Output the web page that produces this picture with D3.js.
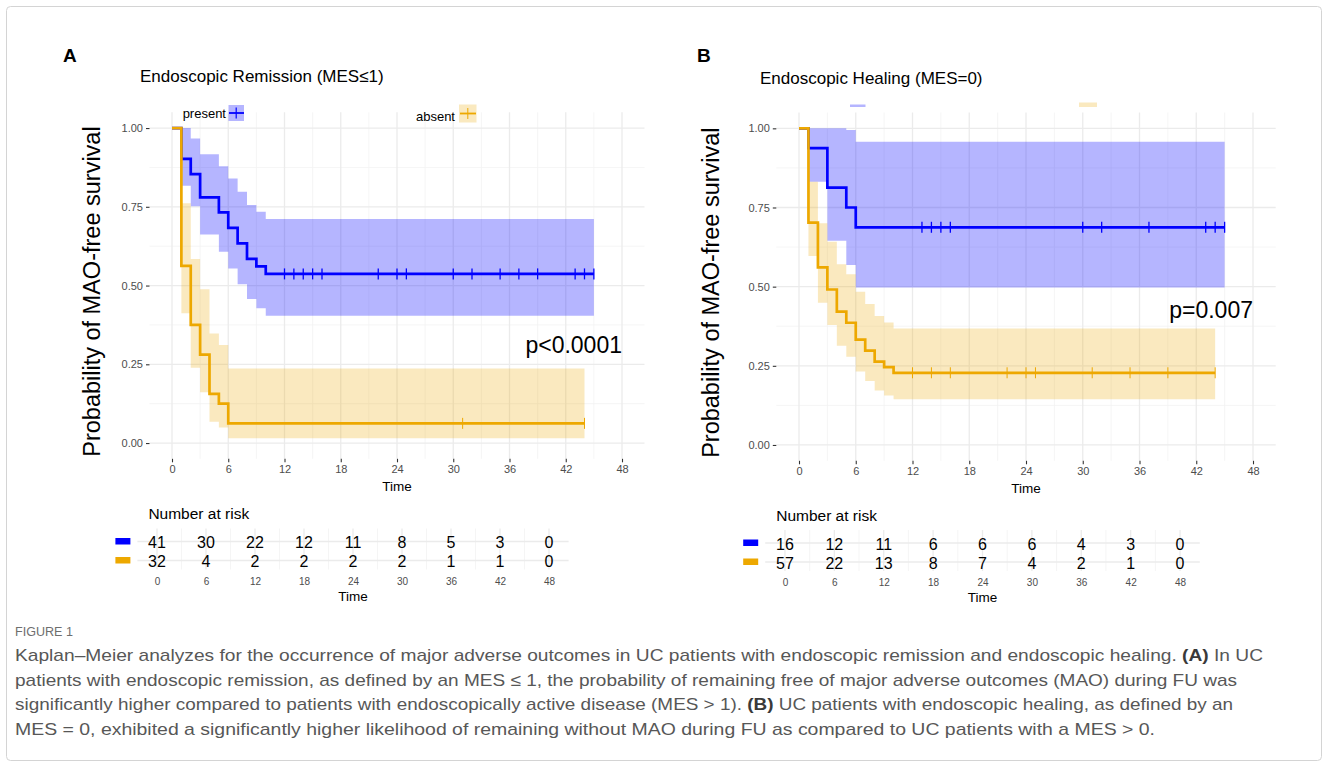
<!DOCTYPE html>
<html>
<head>
<meta charset="utf-8">
<script src="https://cdn.jsdelivr.net/npm/d3@7"></script>
<style>
body { margin: 0; background: #fff; }
svg text { font-family: "Liberation Sans", Arial, sans-serif; }
</style>
</head>
<body>
<svg id="chart"></svg>
<script>
// SVG size params
var width = 1328;
var height = 767;

// Time ticks (months)
var months = [0, 6, 12, 18, 24, 30, 36, 42, 48];

// Panel A: endoscopic remission, MES<=1 (present) vs absent
var remPresentTimes = [0, 1, 2, 3, 5, 6, 7, 8, 9, 10];
var remPresentSurv = [1, 0.902, 0.854, 0.780, 0.732, 0.683, 0.634, 0.585, 0.561, 0.537];
var remPresentUpper = [1, 1.0, 0.967, 0.917, 0.879, 0.840, 0.798, 0.756, 0.734, 0.711];
var remPresentLower = [1, 0.817, 0.752, 0.662, 0.607, 0.554, 0.504, 0.457, 0.428, 0.404];
var remPresentCensor = [12, 13, 14, 15, 16, 22, 24, 25, 30, 32, 35, 37, 39, 43, 44, 45];

var remAbsentTimes = [0, 1, 2, 3, 4, 5, 6];
var remAbsentSurv = [1, 0.5625, 0.375, 0.281, 0.156, 0.125, 0.0625];
var remAbsentUpper = [1, 0.761, 0.584, 0.488, 0.348, 0.311, 0.237];
var remAbsentLower = [1, 0.412, 0.239, 0.161, 0.068, 0.049, 0.015];
var remAbsentCensor = [31, 44];

var remRiskPresent = [41, 30, 22, 12, 11, 8, 5, 3, 0];
var remRiskAbsent = [32, 4, 2, 2, 2, 2, 1, 1, 0];

// Panel B: endoscopic healing, MES=0 (present) vs absent
var healPresentTimes = [0, 1, 3, 5, 6];
var healPresentSurv = [1, 0.9375, 0.8125, 0.75, 0.6875];
var healPresentUpper = [1, 1, 1, 0.995, 0.958];
var healPresentLower = [1, 0.831, 0.645, 0.568, 0.497];
var healPresentCensor = [13, 14, 15, 16, 30, 32, 37, 43, 44, 45];

var healAbsentTimes = [0, 1, 2, 3, 4, 5, 6, 7, 8, 9, 10];
var healAbsentSurv = [1, 0.702, 0.561, 0.491, 0.421, 0.386, 0.333, 0.298, 0.263, 0.246, 0.228];
var healAbsentUpper = [1, 0.831, 0.700, 0.642, 0.571, 0.539, 0.484, 0.445, 0.407, 0.387, 0.368];
var healAbsentLower = [1, 0.597, 0.449, 0.379, 0.313, 0.279, 0.232, 0.202, 0.172, 0.156, 0.144];
var healAbsentCensor = [12, 14, 16, 22, 24, 25, 31, 35, 39, 44];

var healRiskPresent = [16, 12, 11, 6, 6, 6, 4, 3, 0];
var healRiskAbsent = [57, 22, 13, 8, 7, 4, 2, 1, 0];

// Colours
var blue = "#0000FF";
var orange = "#EDA800";

// Initiate SVG
var svg = d3.select("#chart")
            .attr("width", width)
            .attr("height", height);

// Figure frame
svg.append("rect")
    .attr("x", 6.5).attr("y", 6.5)
    .attr("width", width - 13).attr("height", height - 13)
    .attr("rx", 4)
    .attr("fill", "none")
    .attr("stroke", "#d4d4d4");

// Draw one Kaplan-Meier panel
function drawPanel(p) {
  var g = svg.append("g");
  var x = d3.scaleLinear().domain([-2.4, 50.4]).range([p.left, p.right]);
  var y = d3.scaleLinear().domain([-0.05, 1.05]).range([p.bottom, p.top]);

  // Gridlines (minor then major)
  var grid = g.append("g").attr("class", "grid");
  grid.selectAll(".vminor").data(d3.range(3, 48, 6)).enter().append("line")
      .attr("x1", d => x(d)).attr("x2", d => x(d))
      .attr("y1", p.top).attr("y2", p.bottom)
      .attr("stroke", "#f2f2f2").attr("stroke-width", 0.8);
  grid.selectAll(".hminor").data([0.125, 0.375, 0.625, 0.875]).enter().append("line")
      .attr("x1", p.left).attr("x2", p.right)
      .attr("y1", d => y(d)).attr("y2", d => y(d))
      .attr("stroke", "#f2f2f2").attr("stroke-width", 0.8);
  grid.selectAll(".vmajor").data(months).enter().append("line")
      .attr("x1", d => x(d)).attr("x2", d => x(d))
      .attr("y1", p.top).attr("y2", p.bottom)
      .attr("stroke", "#ebebeb").attr("stroke-width", 1.3);
  grid.selectAll(".hmajor").data([0, 0.25, 0.5, 0.75, 1]).enter().append("line")
      .attr("x1", p.left).attr("x2", p.right)
      .attr("y1", d => y(d)).attr("y2", d => y(d))
      .attr("stroke", "#ebebeb").attr("stroke-width", 1.3);

  // Build step points for each stratum
  var strata = p.strata.map(function(s) {
    var pts = s.times.map(function(t, i) {
      return {t: t, s: s.surv[i], lo: s.lower[i], hi: s.upper[i]};
    });
    var last = pts[pts.length - 1];
    pts.push({t: s.end, s: last.s, lo: last.lo, hi: last.hi});
    return {pts: pts, color: s.color, fill: s.fill, censor: s.censor, tickW: s.tickW};
  });

  // Confidence bands
  var area = d3.area()
      .x(d => x(d.t))
      .y0(d => y(d.lo))
      .y1(d => y(d.hi))
      .curve(d3.curveStepAfter);
  strata.forEach(function(s) {
    g.append("path").datum(s.pts)
        .attr("d", area)
        .attr("fill", s.fill);
  });

  // Survival lines
  var line = d3.line()
      .x(d => x(d.t))
      .y(d => y(d.s))
      .curve(d3.curveStepAfter);
  strata.forEach(function(s) {
    g.append("path").datum(s.pts)
        .attr("d", line)
        .attr("fill", "none")
        .attr("stroke", s.color)
        .attr("stroke-width", 2.7);

    // Censor marks
    g.selectAll(null).data(s.censor).enter().append("line")
        .attr("x1", d => x(d)).attr("x2", d => x(d))
        .attr("y1", d => y(survAt(s.pts, d)) - 5.5)
        .attr("y2", d => y(survAt(s.pts, d)) + 5.5)
        .attr("stroke", s.color)
        .attr("stroke-width", s.tickW);
  });

  // Axes
  var yAxis = g.append("g")
      .attr("transform", "translate(" + p.left + ",0)")
      .call(d3.axisLeft(y).tickValues([0, 0.25, 0.5, 0.75, 1])
              .tickFormat(d3.format(".2f")).tickSize(3.5).tickPadding(3));
  var xAxis = g.append("g")
      .attr("transform", "translate(0," + p.bottom + ")")
      .call(d3.axisBottom(x).tickValues(months).tickSize(3.5).tickPadding(3));
  [yAxis, xAxis].forEach(function(a) {
    a.select(".domain").remove();
    a.selectAll(".tick line").attr("stroke", "#333").attr("stroke-width", 1.1);
    a.selectAll(".tick text").attr("fill", "#4d4d4d").style("font-size", "11px");
  });

  // Axis titles
  g.append("text")
      .attr("x", (p.left + p.right) / 2)
      .attr("y", p.bottom + 32)
      .attr("text-anchor", "middle")
      .style("font-size", "13.5px")
      .text("Time");
  g.append("text")
      .attr("transform", "translate(" + p.ytitleX + "," + ((p.top + p.bottom) / 2 + 6) + ") rotate(-90)")
      .attr("text-anchor", "middle")
      .style("font-size", "23.5px")
      .text("Probability of MAO-free survival");

  // Panel title and letter
  g.append("text")
      .attr("x", p.titleX).attr("y", p.titleY)
      .style("font-size", "17px")
      .text(p.title);
  g.append("text")
      .attr("x", p.letterX).attr("y", 62)
      .style("font-size", "19px")
      .style("font-weight", "bold")
      .text(p.letter);

  // p-value
  g.append("text")
      .attr("x", x(p.pvalT)).attr("y", y(p.pvalS))
      .attr("text-anchor", "end")
      .attr("dominant-baseline", "central")
      .style("font-size", "23px")
      .text(p.pval);

  return {x: x, y: y, g: g};
}

// Survival value at time t (step function)
function survAt(pts, t) {
  var v = pts[0].s;
  pts.forEach(function(d) { if (d.t <= t) v = d.s; });
  return v;
}

// Number-at-risk table
function drawTable(t) {
  var g = svg.append("g");
  var x = d3.scaleLinear().domain([-2.4, 50.4]).range([t.left, t.right]);
  var rows = d3.scalePoint().domain([0, 1]).range([t.row0, t.row1]);

  g.append("text")
      .attr("x", t.left + 11).attr("y", t.row0 - 28)
      .attr("dominant-baseline", "central")
      .style("font-size", "15.5px")
      .text("Number at risk");

  // grid
  g.selectAll(null).data(d3.range(3, 48, 6)).enter().append("line")
      .attr("x1", d => x(d)).attr("x2", d => x(d))
      .attr("y1", t.row0 - 13).attr("y2", t.row1 + 9)
      .attr("stroke", "#f2f2f2").attr("stroke-width", 0.8);
  g.selectAll(null).data(months).enter().append("line")
      .attr("x1", d => x(d)).attr("x2", d => x(d))
      .attr("y1", t.row0 - 13).attr("y2", t.row1 + 9)
      .attr("stroke", "#ebebeb").attr("stroke-width", 1.3);
  g.selectAll(null).data([0, 1]).enter().append("line")
      .attr("x1", t.left).attr("x2", t.right)
      .attr("y1", d => rows(d)).attr("y2", d => rows(d))
      .attr("stroke", "#ebebeb").attr("stroke-width", 1.3);

  // keys
  g.selectAll(null).data([blue, orange]).enter().append("rect")
      .attr("x", t.left - 22).attr("y", (d, i) => rows(i) - 3.5)
      .attr("width", 15).attr("height", 6.5)
      .attr("fill", d => d);

  // numbers
  [t.present, t.absent].forEach(function(vals, i) {
    g.selectAll(null).data(vals).enter().append("text")
        .attr("x", (d, j) => x(months[j]))
        .attr("y", rows(i) + 1)
        .attr("text-anchor", "middle")
        .attr("dominant-baseline", "central")
        .style("font-size", "16px")
        .text(d => d);
  });

  var ax = g.append("g")
      .attr("transform", "translate(0," + (t.row1 + 9) + ")")
      .call(d3.axisBottom(x).tickValues(months).tickSize(0).tickPadding(8));
  ax.select(".domain").remove();
  ax.selectAll(".tick text").attr("fill", "#4d4d4d").style("font-size", "10px");

  g.append("text")
      .attr("x", (t.left + t.right) / 2)
      .attr("y", t.row1 + 40)
      .attr("text-anchor", "middle")
      .style("font-size", "13.5px")
      .text("Time");
}

// Panel A
var panelA = drawPanel({
  left: 149.5, right: 644.5, top: 112.3, bottom: 458.8,
  ytitleX: 100, title: "Endoscopic Remission (MES\u22641)", titleX: 140, titleY: 82,
  letter: "A", letterX: 63,
  pval: "p<0.0001", pvalT: 48, pvalS: 0.31,
  strata: [
    {times: remPresentTimes, surv: remPresentSurv, upper: remPresentUpper, lower: remPresentLower,
     end: 45, censor: remPresentCensor, color: blue, fill: "rgba(0,0,255,0.29)", tickW: 1.3},
    {times: remAbsentTimes, surv: remAbsentSurv, upper: remAbsentUpper, lower: remAbsentLower,
     end: 44, censor: remAbsentCensor, color: orange, fill: "rgba(237,168,0,0.25)", tickW: 1}
  ]
});

// Panel B
var panelB = drawPanel({
  left: 776.3, right: 1275.7, top: 112.5, bottom: 460.8,
  ytitleX: 719, title: "Endoscopic Healing (MES=0)", titleX: 760, titleY: 84,
  letter: "B", letterX: 697,
  pval: "p=0.007", pvalT: 48, pvalS: 0.425,
  strata: [
    {times: healPresentTimes, surv: healPresentSurv, upper: healPresentUpper, lower: healPresentLower,
     end: 45, censor: healPresentCensor, color: blue, fill: "rgba(0,0,255,0.29)", tickW: 1.3},
    {times: healAbsentTimes, surv: healAbsentSurv, upper: healAbsentUpper, lower: healAbsentLower,
     end: 44, censor: healAbsentCensor, color: orange, fill: "rgba(237,168,0,0.25)", tickW: 1}
  ]
});

// Legend of panel A
var legA = svg.append("g");
legA.append("text").attr("x", 226).attr("y", 113).attr("text-anchor", "end")
    .attr("dominant-baseline", "central").style("font-size", "13px").text("present");
legA.append("rect").attr("x", 228.5).attr("y", 105).attr("width", 15.5).attr("height", 16)
    .attr("fill", "rgba(0,0,255,0.29)");
legA.append("line").attr("x1", 229).attr("x2", 244).attr("y1", 113).attr("y2", 113)
    .attr("stroke", blue).attr("stroke-width", 1.8);
legA.append("line").attr("x1", 236.2).attr("x2", 236.2).attr("y1", 107.5).attr("y2", 118.5)
    .attr("stroke", blue).attr("stroke-width", 1.2);
legA.append("text").attr("x", 455).attr("y", 116).attr("text-anchor", "end")
    .attr("dominant-baseline", "central").style("font-size", "13px").text("absent");
legA.append("rect").attr("x", 459).attr("y", 104.5).attr("width", 17.5).attr("height", 18)
    .attr("fill", "rgba(237,168,0,0.25)");
legA.append("line").attr("x1", 460).attr("x2", 476).attr("y1", 113.5).attr("y2", 113.5)
    .attr("stroke", orange).attr("stroke-width", 1.8);
legA.append("line").attr("x1", 467.8).attr("x2", 467.8).attr("y1", 108).attr("y2", 119)
    .attr("stroke", orange).attr("stroke-width", 1);

// Legend keys of panel B (labels missing in original)
svg.append("rect").attr("x", 850).attr("y", 104.5).attr("width", 15.5).attr("height", 2.5)
    .attr("fill", "rgba(0,0,255,0.29)");
svg.append("rect").attr("x", 1079).attr("y", 102.5).attr("width", 18).attr("height", 4.5)
    .attr("fill", "rgba(237,168,0,0.25)");

// Risk tables
drawTable({left: 137.4, right: 568.6, row0: 541.5, row1: 560.5,
           present: remRiskPresent, absent: remRiskAbsent});
drawTable({left: 765.2, right: 1199.8, row0: 543, row1: 562,
           present: healRiskPresent, absent: healRiskAbsent});

// Caption
var cap = svg.append("g").attr("fill", "#575757")
    .style("font-family", "'Noto Sans', 'Open Sans', sans-serif");
cap.append("text").attr("x", 15).attr("y", 636)
    .style("font-size", "12px").attr("fill", "#6e6e6e")
    .attr("textLength", 58).attr("lengthAdjust", "spacingAndGlyphs")
    .text("FIGURE 1");

var captionLines = [
  [["Kaplan\u2013Meier analyzes for the occurrence of major adverse outcomes in UC patients with endoscopic remission and endoscopic healing. ", false], ["(A)", true], [" In UC", false]],
  [["patients with endoscopic remission, as defined by an MES \u2264 1, the probability of remaining free of major adverse outcomes (MAO) during FU was", false]],
  [["significantly higher compared to patients with endoscopically active disease (MES > 1). ", false], ["(B)", true], [" UC patients with endoscopic healing, as defined by an", false]],
  [["MES = 0, exhibited a significantly higher likelihood of remaining without MAO during FU as compared to UC patients with a MES > 0.", false]]
];
var captionWidths = [1248, 1222, 1218, 1140];

captionLines.forEach(function(parts, i) {
  var t = cap.append("text")
      .attr("x", 15).attr("y", 661 + i * 24.5)
      .style("font-size", "17px")
      .attr("textLength", captionWidths[i])
      .attr("lengthAdjust", "spacingAndGlyphs");
  parts.forEach(function(p) {
    t.append("tspan")
        .style("font-weight", p[1] ? "bold" : "normal")
        .attr("fill", p[1] ? "#3a3a3a" : null)
        .text(p[0]);
  });
});
</script>
</body>
</html>
